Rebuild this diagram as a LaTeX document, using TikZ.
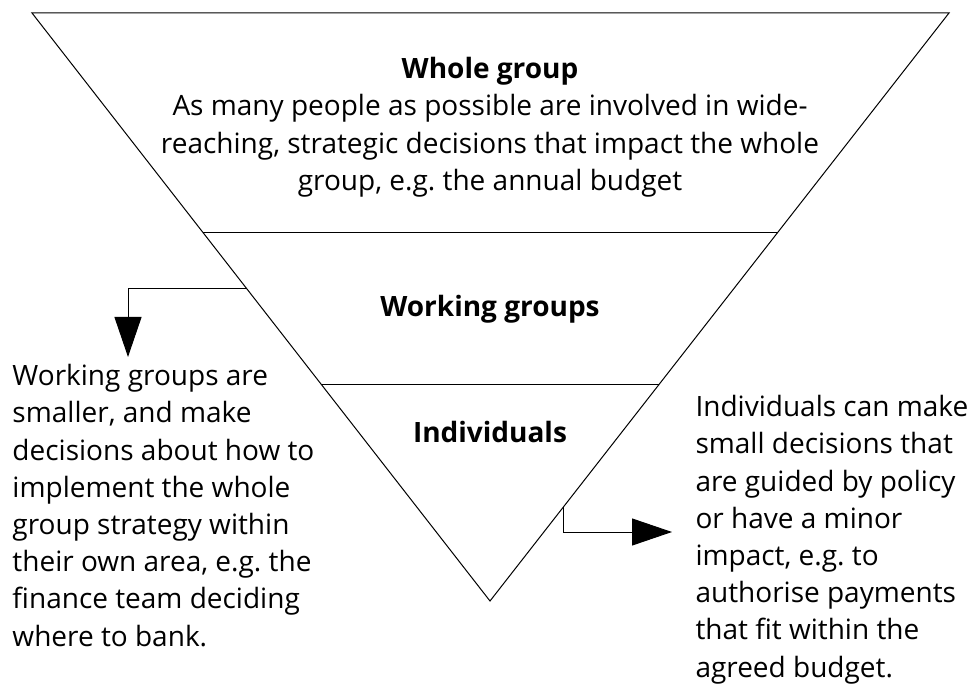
\documentclass[tikz,border=0pt]{standalone}
\usepackage{fontspec}
\setmainfont{Open Sans}
\frenchspacing
\usetikzlibrary{arrows.meta,calc}
\tikzset{
  body/.style={inner sep=0pt,font=\fontsize{28}{37.2}\selectfont},
  bigarrow/.style={line width=1pt,-{Triangle[length=40pt,width=27pt]}}
}
\begin{document}
\begin{tikzpicture}[x=1pt,y=-1pt,line width=1pt]
  \useasboundingbox (0,0) rectangle (972,684);
  \coordinate (tl) at (32,13);
  \coordinate (tr) at (949,13);
  \coordinate (bt) at (490,601);
  \draw (tl) -- (tr) -- (bt) -- cycle;
  \draw ($(tl)!0.374!(bt)$) -- ($(tr)!0.374!(bt)$);
  \draw ($(tl)!0.631!(bt)$) -- ($(tr)!0.631!(bt)$);

  \node[body,anchor=north,align=center] (whole) at (490,57)
    {\textbf{Whole group}\\
     As many people as possible are involved in wide-\\
     reaching, strategic decisions that impact the whole\\
     group, e.g. the annual budget};
  \node[body] (working) at (490,309) {\textbf{Working groups}};
  \node[body] (indiv) at (490,432) {\textbf{Individuals}};

  \node[body,anchor=north west,align=left] (wgtext) at (12,364)
    {Working groups are\\
     smaller, and make\\
     decisions about how to\\
     implement the whole\\
     group strategy within\\
     their own area, e.g. the\\
     finance team deciding\\
     where to bank.};
  \node[body,anchor=north west,align=left] (indtext) at (695,395)
    {Individuals can make\\
     small decisions that\\
     are guided by policy\\
     or have a minor\\
     impact, e.g. to\\
     authorise payments\\
     that fit within the\\
     agreed budget.};

  \coordinate (wgout) at ($(tl)!0.469!(bt)$);
  \coordinate (wgtip) at (128,357);
  \coordinate (indout) at ($(tr)!0.84!(bt)$);
  \coordinate (indtip) at (672,532);
  \begin{scope}[bigarrow]
    \draw (wgout) -| (wgtip);
    \draw (indout) |- (indtip);
  \end{scope}
\end{tikzpicture}
\end{document}
